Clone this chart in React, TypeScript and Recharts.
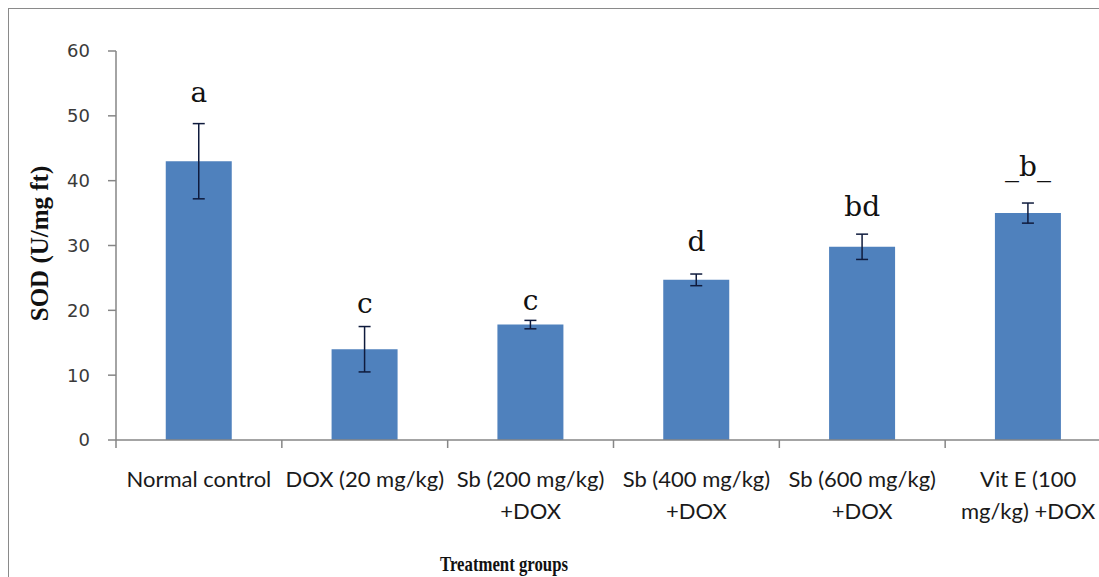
import React from "react";
import {
  ComposedChart,
  Bar,
  ErrorBar,
  Scatter,
  XAxis,
  YAxis,
} from "recharts";

const categories = [
  "Normal control",
  "DOX (20 mg/kg)",
  "Sb (200 mg/kg)\n+DOX",
  "Sb (400 mg/kg)\n+DOX",
  "Sb (600 mg/kg)\n+DOX",
  "Vit E (100\nmg/kg) +DOX",
];
const sodMeans = [43.0, 14.0, 17.8, 24.7, 29.8, 35.0];
const sodErrors = [5.8, 3.5, 0.65, 0.9, 1.95, 1.55];
const letters = ["a", "c", "c", "d", "bd", "_b_"];
const letterBaseline = [52.2, 19.6, 20.1, 29.1, 34.5, 40.7];
const yTicks = [0, 10, 20, 30, 40, 50, 60];

const data = categories.map((name, i) => ({
  name,
  sod: sodMeans[i],
  err: sodErrors[i],
  letter: letters[i],
  letterY: letterBaseline[i],
}));

const CatTick = (props: any) => {
  const { x, y, payload, width, index } = props;
  const lines = String(payload.value).split("\n");
  const half = width / categories.length / 2;
  const isLast = index === categories.length - 1;
  return (
    <g>
      <line
        x1={x - half}
        x2={x - half}
        y1={y}
        y2={y + 8}
        stroke="#868686"
        strokeWidth={1.5}
      />
      {isLast && (
        <line
          x1={x + half}
          x2={x + half}
          y1={y}
          y2={y + 8}
          stroke="#868686"
          strokeWidth={1.5}
        />
      )}
      <text
        x={x}
        y={y}
        textAnchor="middle"
        fill="#1a1a1a"
        fontFamily="Lato, sans-serif"
        fontSize={22}
      >
        {lines.map((l, i) => (
          <tspan key={i} x={x} dy={i === 0 ? 47 : 32}>
            {l}
          </tspan>
        ))}
      </text>
    </g>
  );
};

const LetterShape = (props: any) => {
  const { cx, cy, payload } = props;
  return (
    <text
      x={cx}
      y={cy}
      textAnchor="middle"
      fill="#111"
      fontFamily="'DejaVu Serif', serif"
      fontSize={28}
    >
      {payload.letter}
    </text>
  );
};

const YTitle = (props: any) => {
  const { viewBox } = props;
  const cx = viewBox.x + 3;
  const cy = viewBox.y + viewBox.height / 2 - 2;
  return (
    <text
      x={cx}
      y={cy}
      transform={`rotate(-90, ${cx}, ${cy})`}
      textAnchor="middle"
      dominantBaseline="central"
      fontFamily="'Liberation Serif', serif"
      fontWeight="bold"
      fontSize={25}
      fill="#111"
    >
      SOD (U/mg ft)
    </text>
  );
};

const XTitle = (props: any) => {
  const { viewBox } = props;
  return (
    <text
      x={viewBox.x + 388}
      y={viewBox.y + 131}
      textAnchor="middle"
      fontFamily="'Liberation Serif', serif"
      fontWeight="bold"
      fontSize={22}
      textLength={128}
      lengthAdjust="spacingAndGlyphs"
      fill="#111"
    >
      Treatment groups
    </text>
  );
};

export default function App() {
  return (
    <div
      style={{
        position: "fixed",
        left: 0,
        top: 0,
        width: 1099,
        height: 577,
        overflow: "hidden",
        background: "#fff",
      }}
    >
      <div
        style={{
          position: "absolute",
          left: 8,
          top: 8,
          width: 1200,
          height: 700,
          border: "1.5px solid #8a8a8a",
          boxSizing: "border-box",
        }}
      />
      <div style={{ position: "absolute", left: 0, top: 0 }}>
        <ComposedChart
          width={1200}
          height={577}
          data={data}
          margin={{ top: 51, right: 89, bottom: 37, left: 36 }}
          barCategoryGap="30%"
        >
          <XAxis
            xAxisId="cat"
            dataKey="name"
            type="category"
            interval={0}
            tick={<CatTick />}
            tickLine={false}
            tickSize={0}
            tickMargin={0}
            axisLine={{ stroke: "#868686", strokeWidth: 1.5 }}
            height={100}
            label={<XTitle />}
          />
          <YAxis
            domain={[0, 60]}
            ticks={yTicks}
            width={80}
            tickSize={8}
            tickMargin={18}
            axisLine={{ stroke: "#868686", strokeWidth: 1.5 }}
            tickLine={{ stroke: "#868686", strokeWidth: 1.5 }}
            tick={{
              fill: "#3a3a3a",
              fontFamily: "'DejaVu Sans', sans-serif",
              fontSize: 18,
            }}
            label={<YTitle />}
          />
          <Bar
            xAxisId="cat"
            dataKey="sod"
            fill="#4f81bd"
            isAnimationActive={false}
          >
            <ErrorBar
              dataKey="err"
              width={6}
              stroke="#0f1b3d"
              strokeWidth={1.5}
              direction="y"
            />
          </Bar>
          <Scatter
            xAxisId="cat"
            dataKey="letterY"
            shape={<LetterShape />}
            isAnimationActive={false}
          />
        </ComposedChart>
      </div>
    </div>
  );
}
